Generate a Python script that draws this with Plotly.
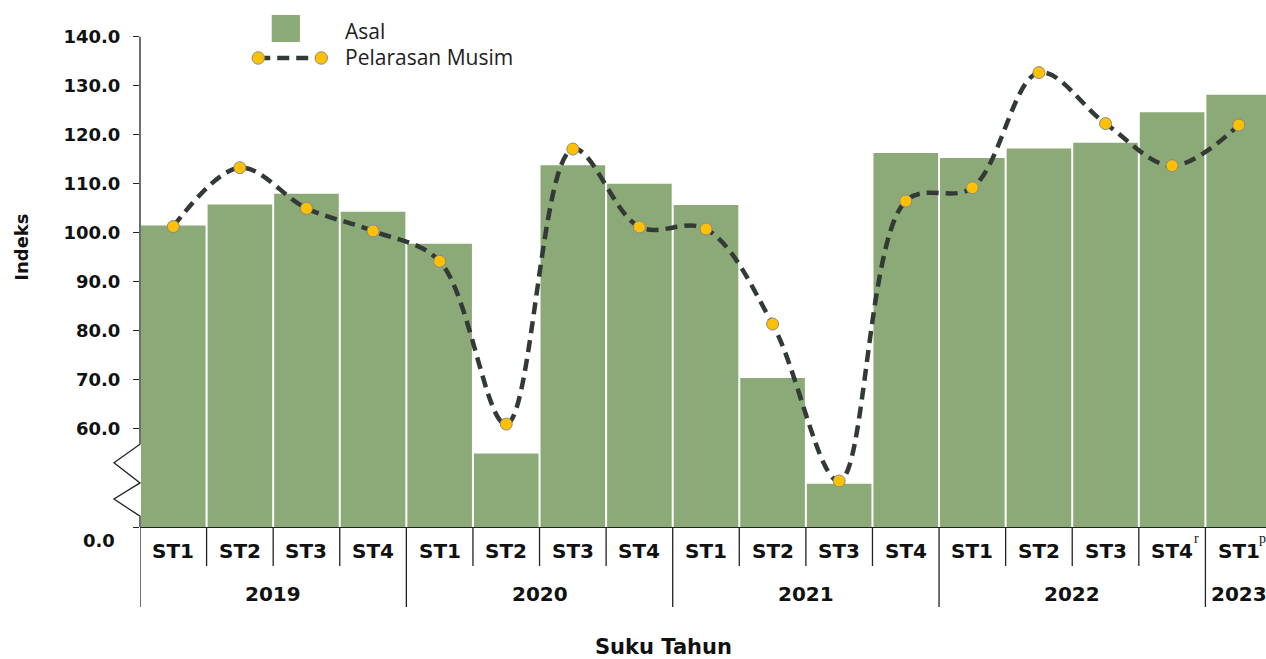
import plotly.graph_objects as go

years = ["2019", "2020", "2021", "2022", "2023"]
quarters = ["ST1", "ST2", "ST3", "ST4"] * 4 + ["ST1"]
year_of = [y for y in years[:4] for _ in range(4)] + ["2023"]
categories = [f"{y} {q}" for y, q in zip(year_of, quarters)]

asal = [101.5, 105.8, 108.0, 104.3, 97.8, 55.0, 113.8, 110.0,
        105.7, 70.4, 48.8, 116.3, 115.3, 117.2, 118.4, 124.6, 128.2]
pelarasan = [101.3, 113.3, 105.0, 100.4, 94.2, 61.0, 117.1, 101.2,
             100.8, 81.4, 49.4, 106.5, 109.2, 132.7, 122.3, 113.7, 122.0]

y_ticks = [40, 60, 70, 80, 90, 100, 110, 120, 130, 140]
y_ticktext = [""] + [f"{v:.1f}" for v in y_ticks[1:]]
superscripts = {15: "r", 16: "p"}

GREEN = "#8BAA78"
DARK = "#333a36"
FONT = "DejaVu Sans"
idx = list(range(len(categories)))

fig = go.Figure()
fig.add_trace(go.Bar(x=idx, y=asal, marker=dict(color=GREEN, line=dict(width=0)),
                     name="Asal", showlegend=False))
fig.add_trace(go.Scatter(x=idx, y=pelarasan, mode="lines+markers", name="Pelarasan Musim",
                         line=dict(color=DARK, width=4.5, dash="12px,7px", shape="spline", smoothing=1.0),
                         marker=dict(color="#FFC000", size=12, line=dict(color="#8a8a8a", width=1)),
                         showlegend=False))

shapes = []
# custom y axis with break
shapes.append(dict(type="path", xref="paper", yref="y",
                   path="M 0,140 L 0,56.9 L -0.0231,53.1 L 0,49.0 L -0.0231,45.7 L 0,42.2 L 0,40",
                   line=dict(color="#222", width=1.3)))
# separators in x label area
n = len(categories)
for k in range(n):
    is_year = k % 4 == 0
    shapes.append(dict(type="line", xref="x", yref="paper", x0=k - 0.5, x1=k - 0.5,
                       y0=0, y1=-0.16 if is_year else -0.078,
                       line=dict(color="#222", width=1.3)))
# legend
shapes.append(dict(type="rect", xref="paper", yref="paper", x0=0.117, x1=0.142, y0=0.97, y1=1.024,
                   fillcolor=GREEN, line=dict(width=0)))
shapes.append(dict(type="line", xref="paper", yref="paper", x0=0.105, x1=0.161, y0=0.938, y1=0.938,
                   line=dict(color=DARK, width=4.5, dash="12px,7px")))
for cx in (0.105, 0.161):
    shapes.append(dict(type="circle", xref="paper", yref="paper", x0=cx - 0.0055, x1=cx + 0.0055,
                       y0=0.938 - 0.0125, y1=0.938 + 0.0125, fillcolor="#FFC000",
                       line=dict(color="#8a8a8a", width=1)))

ann = []
bold = dict(family=FONT, size=20, color="#111", weight="bold")
for i, q in enumerate(quarters):
    ann.append(dict(x=i, y=-0.048, xref="x", yref="paper", text=q, showarrow=False,
                    font=bold, xanchor="center", yanchor="middle"))
for i, s in superscripts.items():
    ann.append(dict(x=i + 0.36, y=-0.022, xref="x", yref="paper", text=s, showarrow=False,
                    font=dict(family="Liberation Serif", size=14, color="#111"),
                    xanchor="center", yanchor="middle"))
for j, y in enumerate(years):
    cx = 4 * j + 1.5 if j < 4 else 16
    ann.append(dict(x=cx, y=-0.134, xref="x", yref="paper", text=y, showarrow=False,
                    font=bold, xanchor="center", yanchor="middle"))
ann.append(dict(x=-0.0205, y=-0.026, xref="paper", yref="paper", text="0.0", showarrow=False,
                font=dict(family=FONT, size=18, color="#111", weight="bold"), xanchor="right", yanchor="middle"))
ann.append(dict(x=0.465, y=-0.24, xref="paper", yref="paper", text="Suku Tahun", showarrow=False,
                font=dict(family=FONT, size=21, color="#111", weight="bold"), xanchor="center", yanchor="middle"))
ann.append(dict(x=-0.105, y=0.56, xref="paper", yref="paper", text="Indeks", showarrow=False, textangle=-90,
                font=dict(family=FONT, size=18, color="#111", weight="bold"), xanchor="center", yanchor="middle"))
leg_font = dict(family="Open Sans", size=21, color="#222")
ann.append(dict(x=0.18, y=0.993, xref="paper", yref="paper", text="Asal", showarrow=False,
                font=leg_font, xanchor="left", yanchor="middle"))
ann.append(dict(x=0.18, y=0.94, xref="paper", yref="paper", text="Pelarasan Musim", showarrow=False,
                font=leg_font, xanchor="left", yanchor="middle"))

fig.update_layout(
    width=1266, height=659,
    margin=dict(l=140, r=0, t=27, b=132),
    plot_bgcolor="white", paper_bgcolor="white",
    bargap=0.03,
    shapes=shapes, annotations=ann,
    showlegend=False,
    xaxis=dict(range=[-0.5, 16.41], showticklabels=False, ticks="", showgrid=False, zeroline=False,
               showline=True, linecolor="#222", linewidth=1.3),
    yaxis=dict(range=[40, 142], tickvals=y_ticks, ticktext=y_ticktext, ticks="outside", ticklen=6,
               tickcolor="#222", tickwidth=1.3, showgrid=False, zeroline=False, showline=False,
               ticklabelstandoff=9,
               tickfont=dict(family=FONT, size=18, color="#111", weight="bold")),
)

# remove the default page margin so the figure fills the 1266x659 window exactly
fig.write_html("out.html", config={"displayModeBar": False},
               post_script="document.body.style.margin='0px';document.body.style.overflow='hidden';")
